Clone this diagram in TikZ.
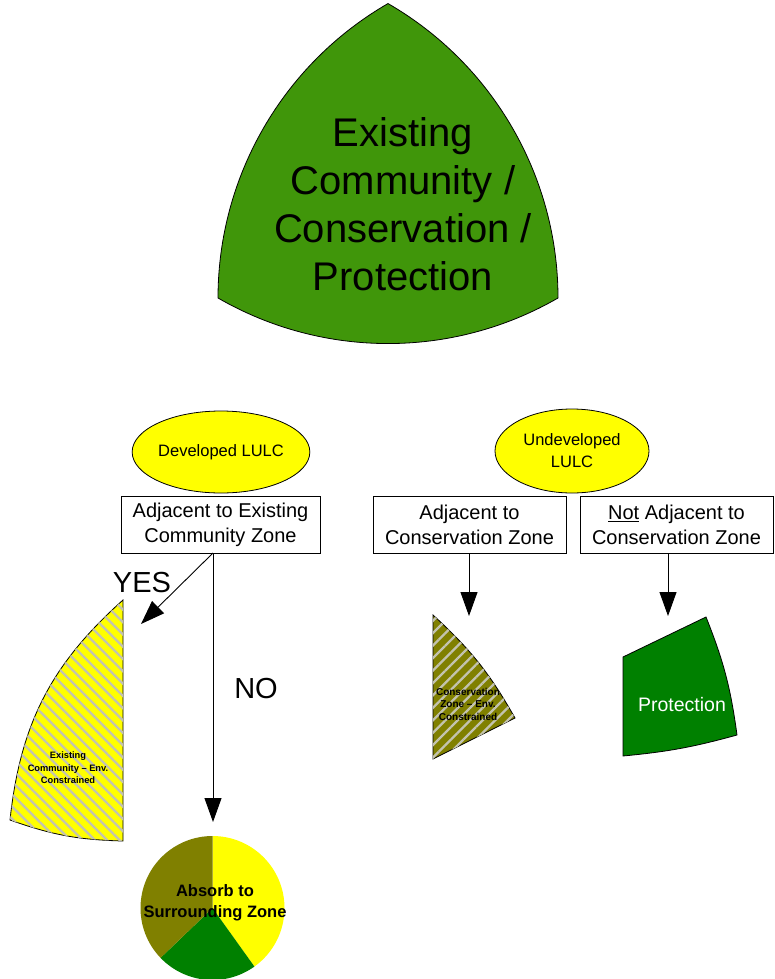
\documentclass[tikz,border=0pt]{standalone}
\usepackage{fontspec}
\setmainfont{Liberation Sans}
\usetikzlibrary{arrows.meta,patterns.meta,shapes.geometric}
\definecolor{topgreen}{RGB}{64,150,10}
\definecolor{pgreen}{RGB}{0,128,0}
\definecolor{olivec}{RGB}{128,128,0}
\definecolor{yel}{RGB}{255,255,0}
\definecolor{stripe}{RGB}{195,195,175}
\tikzset{
  decbox/.style={draw=black, line width=0.8pt, fill=white, minimum height=57pt, inner sep=0pt, align=center, font=\fontsize{20}{25}\selectfont},
  lulc/.style={ellipse, draw=black, line width=0.8pt, fill=yel, inner sep=0pt, align=center, font=\fontsize{16.5}{22}\selectfont},
  flow/.style={line width=0.9pt, -{Triangle[length=24pt,width=17pt]}},
  shapeline/.style={draw=black, line width=0.8pt},
  small/.style={font=\bfseries\fontsize{9.3}{12.5}\selectfont, align=center},
  bigword/.style={font=\fontsize{29}{34}\selectfont}
}
\begin{document}
\begin{tikzpicture}[x=1pt,y=1pt]
\useasboundingbox (0,0) rectangle (774,-979);
% top Reuleaux shape
\coordinate (A) at (388,-3.5);
\coordinate (B) at (218,-298);
\coordinate (C) at (558,-298);
\path[shapeline, fill=topgreen] (C) arc[start angle=0,end angle=60,radius=340pt]
  arc[start angle=120,end angle=180,radius=340pt]
  arc[start angle=240,end angle=300,radius=340pt] -- cycle;
\node[font=\fontsize{40}{48}\selectfont, align=center] (top) at (403,-204) {Existing\\Community /\\Conservation /\\Protection};

% ellipses
\node[lulc, minimum width=153pt, minimum height=82pt] (dev) at (221,-452) {Developed LULC};
\node[lulc, minimum width=154pt, minimum height=84pt] (undev) at (572,-451) {Undeveloped\\LULC};

% boxes
\node[decbox, minimum width=199pt] (b1) at (220.5,-524.5) {Adjacent to Existing\\Community Zone};
\node[decbox, minimum width=193pt] (b2) at (469.5,-524.5) {Adjacent to\\Conservation Zone};
\node[decbox, minimum width=193pt] (b3) at (676.5,-524.5) {\underline{Not} Adjacent to\\Conservation Zone};

% left sector: existing community - env constrained
\path[shapeline, fill=yel, postaction={pattern={Lines[angle=-45,distance=8.7pt,line width=2.3pt]}, pattern color=stripe}]
  (123,-600) -- (123,-841) to[bend left=9] (10,-820) to[bend left=21] cycle;
\node[small] (ecec) at (68,-768) {Existing\\Community -- Env.\\Constrained};

% conservation sector
\path[shapeline, fill=olivec, postaction={pattern={Lines[angle=45,distance=8.8pt,line width=2.3pt]}, pattern color=stripe}]
  (433,-615) to[bend left=9] (515,-718) -- (433,-759) -- cycle;
\node[small, font=\bfseries\fontsize{10}{12.5}\selectfont] (czec) at (468,-704) {Conservation\\Zone -- Env.\\Constrained};

% protection shape
\path[shapeline, fill=pgreen]
  (623,-657) -- (706,-617) to[bend left=7] (737,-735) to[bend left=5] (623,-756) -- cycle;
\node[text=white, font=\fontsize{19.5}{24}\selectfont] (prot) at (682,-705) {Protection};

% pie
\coordinate (pc) at (212.5,-908);
\fill[yel] (pc) -- ++(90:72) arc[start angle=90,end angle=-54.4,radius=72pt] -- cycle;
\fill[pgreen] (pc) -- ++(-54.4:72) arc[start angle=-54.4,end angle=-136.2,radius=72pt] -- cycle;
\fill[olivec] (pc) -- ++(223.8:72) arc[start angle=223.8,end angle=90,radius=72pt] -- cycle;
\node[font=\bfseries\fontsize{16.5}{20.5}\selectfont, align=center] (absorb) at (215,-903) {Absorb to\\Surrounding Zone};

% connectors
\coordinate (b1s) at (213,-553);
\coordinate (yesend) at (141,-624);
\coordinate (noend) at (213,-822);
\coordinate (b2s) at (469,-553);
\coordinate (b2e) at (469,-616);
\coordinate (b3s) at (668,-553);
\coordinate (b3e) at (668,-616);
\draw[flow] (b1s) -- (yesend);
\draw[flow] (b1s) -- (noend);
\draw[flow] (b2s) -- (b2e);
\draw[flow] (b3s) -- (b3e);

\node[bigword] (yes) at (142,-583) {YES};
\node[bigword] (no) at (256,-689) {NO};
\end{tikzpicture}
\end{document}
